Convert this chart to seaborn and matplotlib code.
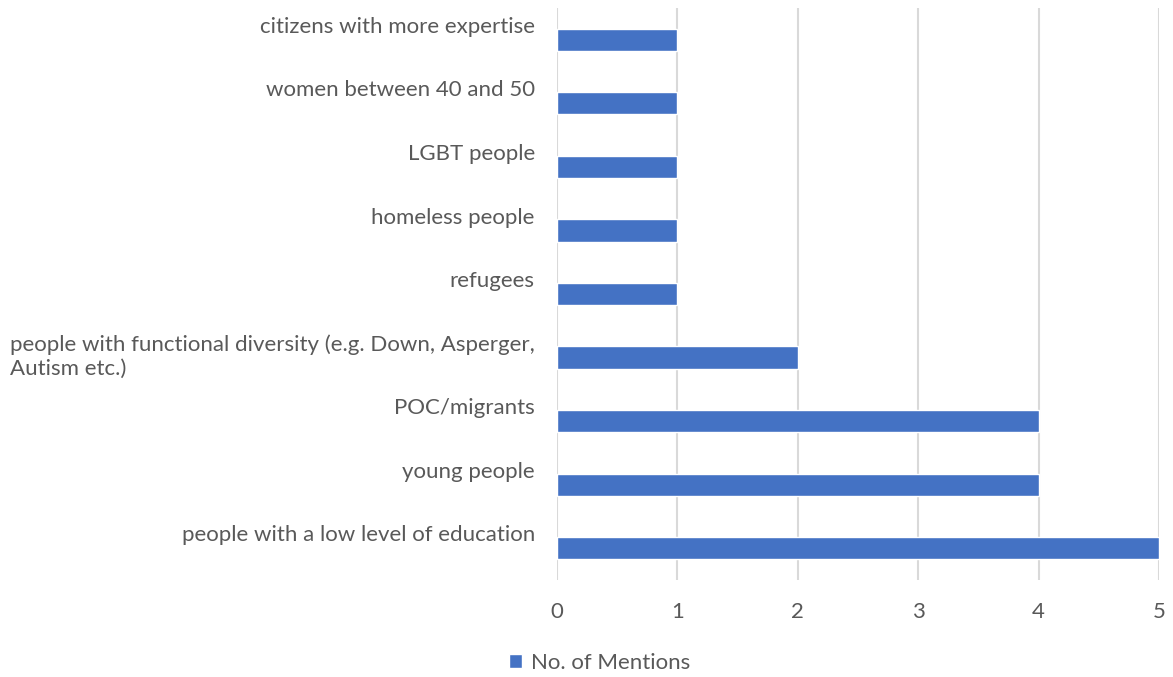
import numpy as np
import pandas as pd
import seaborn as sns
import matplotlib.pyplot as plt

categories = [
    "citizens with more expertise",
    "women between 40 and 50",
    "LGBT people",
    "homeless people",
    "refugees",
    "people with functional diversity (e.g. Down, Asperger,\nAutism etc.)",
    "POC/migrants",
    "young people",
    "people with a low level of education",
]
mentions = [1, 1, 1, 1, 1, 2, 4, 4, 5]
series_name = "No. of Mentions"

df = pd.DataFrame({"group": categories, "count": mentions})

sns.set_theme(style="white")
plt.rcParams["font.family"] = ["Lato", "DejaVu Sans"]
grey = "#595959"
fs = 16

fig = plt.figure(figsize=(11.73, 6.77), dpi=100)
ax = fig.add_axes([0.4749, 0.1433, 0.5132, 0.8449])

sns.barplot(data=df, x="count", y="group", orient="h", color="#4472C4",
            width=0.35, saturation=1, ax=ax, label=series_name)

ax.set_xlim(0, 5)
ax.set_ylim(len(categories) - 0.5, -0.5)
ax.set_xticks(range(6))
ax.xaxis.grid(True, color="#D9D9D9", linewidth=1.5)
ax.set_axisbelow(True)
for s in ax.spines.values():
    s.set_visible(False)

# labels sit above the bars, top-aligned like the Excel original
ax.set_yticks(np.arange(len(categories)) - 0.36, labels=categories)
for t in ax.get_yticklabels():
    t.set_va("top")
    t.set_multialignment("left")
    t.set_linespacing(1.2)
ax.tick_params(axis="y", length=0, pad=16, labelsize=fs, labelcolor=grey)
ax.tick_params(axis="x", length=0, pad=16, labelsize=fs, labelcolor=grey)
ax.set_xlabel("")
ax.set_ylabel("")

ax.legend(loc="center", bbox_to_anchor=(0.511, 0.0207), bbox_transform=fig.transFigure,
          frameon=False, fontsize=fs, labelcolor=grey, handlelength=0.6,
          handleheight=0.6, handletextpad=0.4)

fig.savefig("out.png", dpi=100)
